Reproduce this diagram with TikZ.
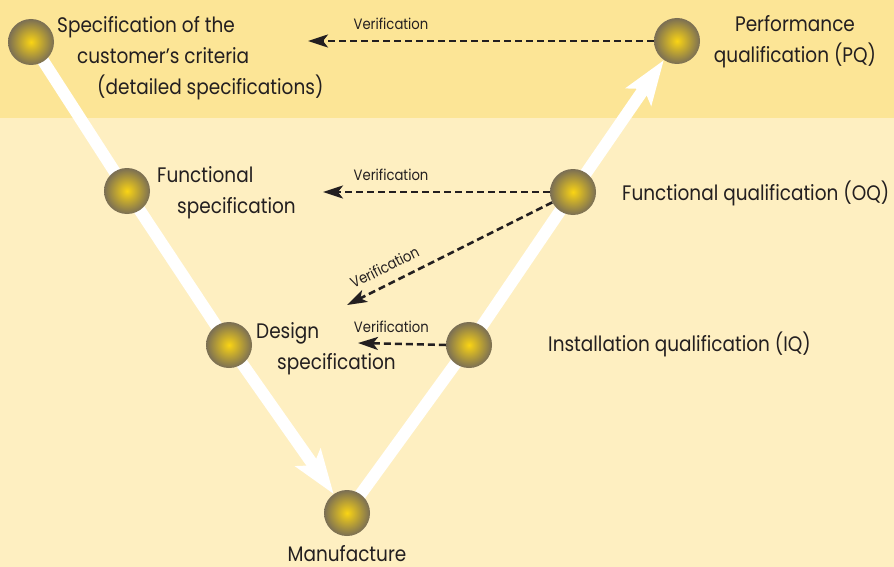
\documentclass[tikz,border=0pt]{standalone}
\usepackage{fontspec}
\setmainfont{Poppins}[FakeStretch=0.88]
\usetikzlibrary{arrows.meta,positioning}
\pgfdeclarelayer{back}
\pgfdeclarelayer{legs}
\pgfsetlayers{back,legs,main}
\definecolor{bandtop}{RGB}{252,229,150}
\definecolor{bandlow}{RGB}{254,239,193}
\definecolor{ballin}{RGB}{250,212,20}
\definecolor{ballout}{RGB}{122,110,84}
\definecolor{ink}{RGB}{35,31,32}
\tikzset{ball/.style={circle, minimum size=46pt, inner sep=0pt,
            shading=radial, inner color=ballin, outer color=ballout},
         vleg/.style={draw=white, line width=12pt,
            -{Stealth[length=44pt, width=30pt, inset=9pt]}},
         verif/.style={draw=ink, line width=2.5pt, dash pattern=on 7pt off 4pt,
            -{Stealth[length=20pt, width=13pt, inset=5pt]}},
         lbl/.style={text=ink, inner sep=0pt, align=left,
            font=\fontsize{21}{31}\selectfont},
         vlbl/.style={text=ink, inner sep=0pt, font=\fontsize{15}{16}\selectfont}}

\begin{document}
\begin{tikzpicture}[x=1pt, y=-1pt]
\useasboundingbox (0,0) rectangle (894,567);
\begin{pgfonlayer}{back}
\fill[bandlow] (0,0) rectangle (894,567);
\fill[bandtop] (0,0) rectangle (894,118);
\end{pgfonlayer}
% left leg
\node[ball] (crit) at (31,42) {};
\node[ball] (func) at (127,191) {};
\node[ball] (desg) at (229,345) {};
\node[ball] (manu) at (347,513) {};
% right leg
\node[ball] (iq) at (469,345) {};
\node[ball] (oq) at (573,192) {};
\node[ball] (pq) at (677,41) {};
\begin{pgfonlayer}{legs}
\draw[vleg] (crit.center) -- (func.center) -- (desg.center) -- (manu);
\draw[vleg] (manu.center) -- (iq.center) -- (oq.center) -- (pq);
\end{pgfonlayer}
% verification
\coordinate (tcrit) at (308,41);
\coordinate (tfunc) at (323,192);
\coordinate (tdesg) at (347,305);
\coordinate (tinst) at (358,343);
\draw[verif] (pq) -- (tcrit) node[vlbl, pos=0.76, above=10pt] {Verification};
\draw[verif] (oq) -- (tfunc) node[vlbl, pos=0.70, above=10pt] {Verification};
\draw[verif] (oq) -- (tdesg) node[vlbl, sloped, pos=0.78, above=10pt] {Verification};
\draw[verif] (iq.west) -- (tinst) node[vlbl, pos=0.62, above=10pt] {Verification};
% labels (base = last line)
\node[lbl, anchor=base west] (critl) at (57,95) {Specification of the\\
    \hspace*{20pt}customer’s criteria\\ \hspace*{40pt}(detailed specifications)};
\node[lbl, anchor=base west] (funcl) at (157,213) {Functional\\
    \hspace*{20pt}specification};
\node[lbl, anchor=base west] (desgl) at (256,369) {Design\\
    \hspace*{21pt}specification};
\node[lbl, anchor=base] (manul) at (347,561) {Manufacture};
\node[lbl, anchor=base west] (iql) at (548,351) {Installation qualification (IQ)};
\node[lbl, anchor=base west] (oql) at (622,200) {Functional qualification (OQ)};
\node[lbl, anchor=base, align=center] (pql) at (795,63) {Performance\\
    qualification (PQ)};
\end{tikzpicture}
\end{document}
